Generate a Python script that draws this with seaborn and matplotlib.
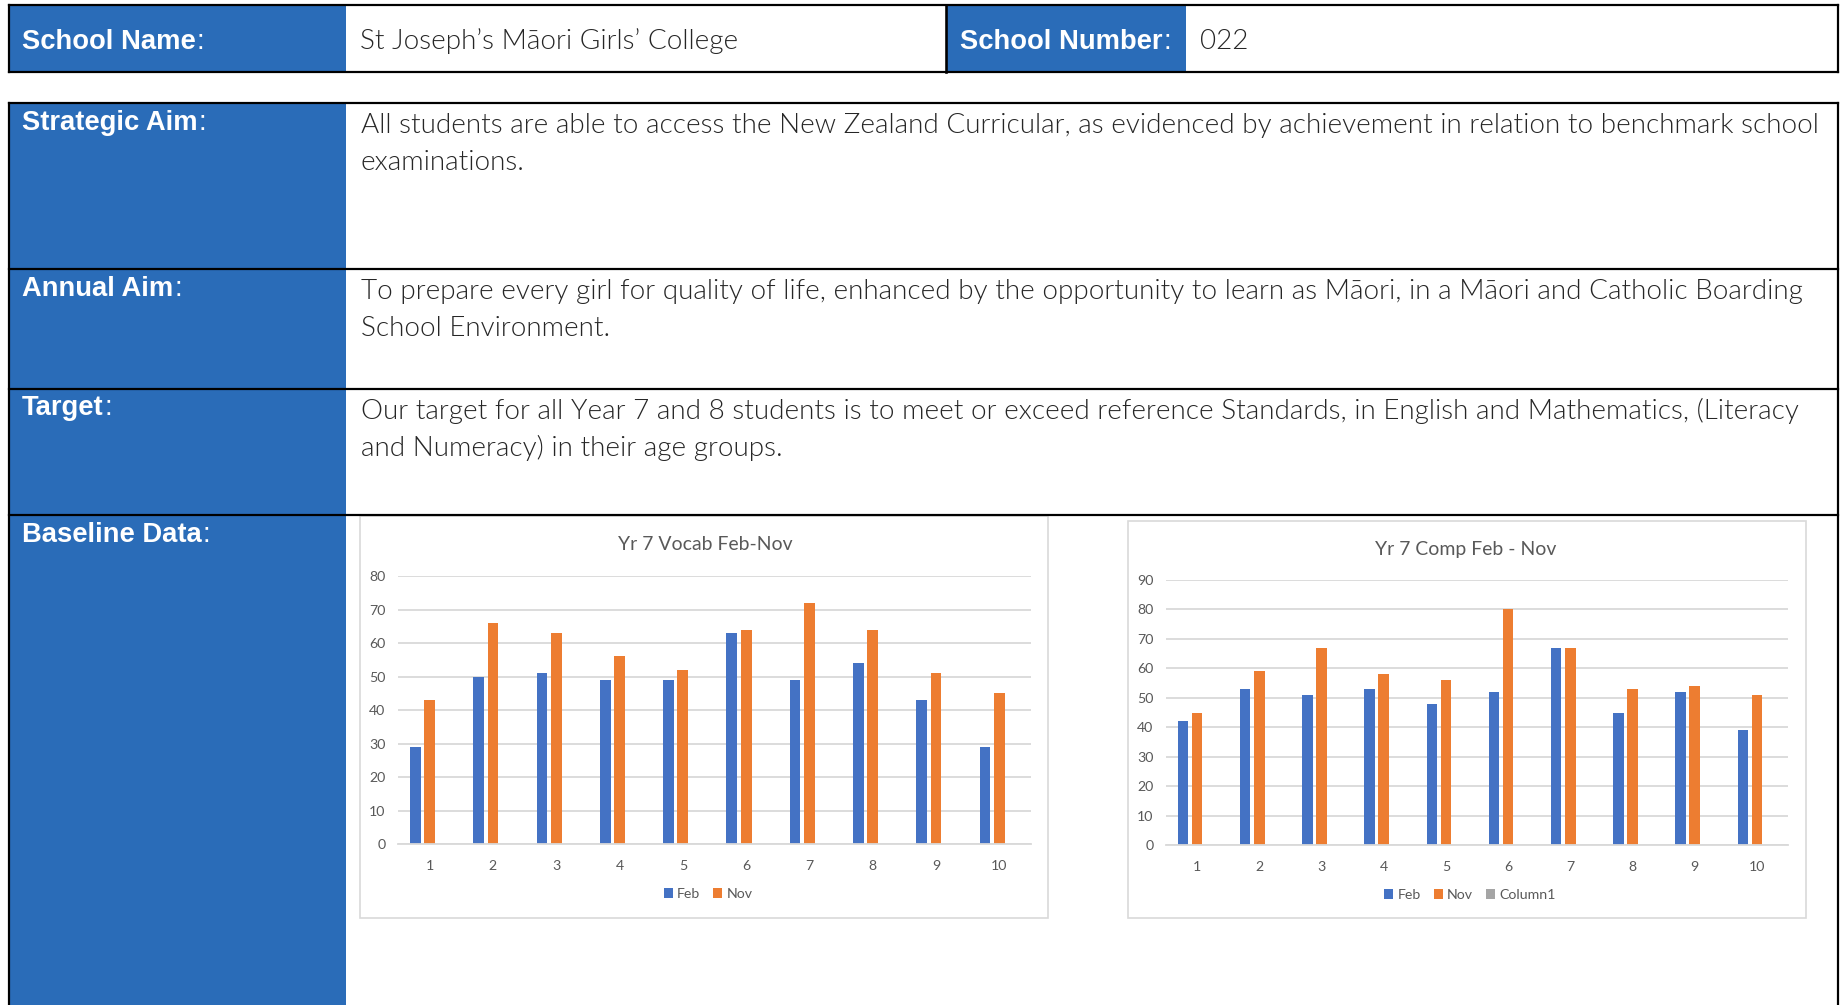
import numpy as np
import pandas as pd
import matplotlib
matplotlib.use("Agg")
import matplotlib.pyplot as plt
import seaborn as sns
from matplotlib.patches import Rectangle, Patch
from matplotlib.lines import Line2D

# ---------------- data ----------------
categories = [1, 2, 3, 4, 5, 6, 7, 8, 9, 10]
vocab_feb = [29, 50, 51, 49, 49, 63, 49, 54, 43, 29]
vocab_nov = [43, 66, 63, 56, 52, 64, 72, 64, 51, 45]
comp_feb = [42, 53, 51, 53, 48, 52, 67, 45, 52, 39]
comp_nov = [45, 59, 67, 58, 56, 80, 67, 53, 54, 51]
series_names = ["Feb", "Nov", "Column1"]
series_colors = ["#4472C4", "#ED7D31", "#A5A5A5"]
vocab_yticks = [0, 10, 20, 30, 40, 50, 60, 70, 80]
comp_yticks = [0, 10, 20, 30, 40, 50, 60, 70, 80, 90]
vocab_title = "Yr 7 Vocab Feb-Nov"
comp_title = "Yr 7 Comp Feb - Nov"

school_name = "St Joseph\u2019s M\u0101ori Girls\u2019 College"
school_number = "022"
strategic_lines = ["All students are able to access the New Zealand Curricular, as evidenced by achievement in relation to benchmark school",
                   "examinations."]
annual_lines = ["To prepare every girl for quality of life, enhanced by the opportunity to learn as M\u0101ori, in a M\u0101ori and Catholic Boarding",
                "School Environment."]
target_lines = ["Our target for all Year 7 and 8 students is to meet or exceed reference Standards, in English and Mathematics, (Literacy",
                "and Numeracy) in their age groups."]


def long_frame(feb, nov):
    rows = []
    for c, f, n in zip(categories, feb, nov):
        rows.append({"cat": str(c), "series": "Feb", "value": f})
        rows.append({"cat": str(c), "series": "Nov", "value": n})
    return pd.DataFrame(rows)


vocab_df = long_frame(vocab_feb, vocab_nov)
comp_df = long_frame(comp_feb, comp_nov)

# ---------------- figure ----------------
W, H = 1841, 1005
sns.set_theme(style="white")
BODY_FONT = ["Lato", "DejaVu Sans"]
plt.rcParams["font.family"] = BODY_FONT
fig = plt.figure(figsize=(W / 100, H / 100), dpi=100)
fig.patch.set_facecolor("white")
renderer = fig.canvas.get_renderer()

BLUE = "#2A6CB8"
BODY_WEIGHT = 300
BODY_COLOR = "#262626"


def fx(x):
    return x / W


def fy(y):
    return 1 - y / H


def rect(x0, y0, x1, y1, **kw):
    r = Rectangle((fx(x0), fy(y1)), (x1 - x0) / W, (y1 - y0) / H,
                  transform=fig.transFigure, **kw)
    fig.add_artist(r)
    return r


def hline(x0, x1, y, lw=2.2, color="black"):
    fig.add_artist(Line2D([fx(x0), fx(x1)], [fy(y), fy(y)], transform=fig.transFigure,
                          color=color, lw=lw * 0.72, zorder=10, solid_capstyle="projecting"))


def vline(x, y0, y1, lw=2.2, color="black"):
    fig.add_artist(Line2D([fx(x), fx(x)], [fy(y0), fy(y1)], transform=fig.transFigure,
                          color=color, lw=lw * 0.72, zorder=10, solid_capstyle="projecting"))


def fit_size(s, target, **kw):
    t = fig.text(0, 0, s, fontsize=20, **kw)
    w = t.get_window_extent(renderer).width
    t.remove()
    return 20 * target / w


# ---------------- header table ----------------
rect(9, 5, 346, 72, facecolor=BLUE, edgecolor="none", zorder=-5)
rect(946, 5, 1186, 72, facecolor=BLUE, edgecolor="none", zorder=-5)
hline(9, 1838, 5)
hline(9, 1838, 72)
vline(9, 5, 72)
vline(1838, 5, 72)
vline(946, 5, 72, lw=2.6)

# ---------------- main table ----------------
rect(9, 103, 346, 1005, facecolor=BLUE, edgecolor="none", zorder=-5)
for yy in [103, 269, 389, 515]:
    hline(9, 1838, yy)
vline(9, 103, 1006)
vline(1838, 103, 1006)

label_size = fit_size("Baseline Data", 179, family="Liberation Sans", fontweight="bold")
body_size = fit_size(strategic_lines[0], 1457, family=BODY_FONT, fontweight=BODY_WEIGHT)


def label(x, y, s):
    t = fig.text(fx(x), fy(y), s, family="Liberation Sans", fontweight="bold",
                 fontsize=label_size, color="white", va="baseline", ha="left")
    bb = t.get_window_extent(renderer)
    fig.text(fx(bb.x1 + 1), fy(y), ":", family="Liberation Sans", fontweight="normal",
             fontsize=label_size, color="white", va="baseline", ha="left")


def body(x, y, s):
    fig.text(fx(x), fy(y), s, family=BODY_FONT, fontweight=BODY_WEIGHT,
             fontsize=body_size, color=BODY_COLOR, va="baseline", ha="left")


label(22, 49, "School Name")
label(960, 49, "School Number")
body(360, 49, school_name)
body(1200, 49, school_number)

label(22, 130.5, "Strategic Aim")
label(22, 296.5, "Annual Aim")
label(22, 414.5, "Target")
label(22, 542, "Baseline Data")

for ln, yy in zip(strategic_lines, [133, 170]):
    body(361, yy, ln)
for ln, yy in zip(annual_lines, [299.5, 336.5]):
    body(361, yy, ln)
for ln, yy in zip(target_lines, [419.5, 456]):
    body(361, yy, ln)

# ---------------- charts ----------------
palette = dict(zip(series_names, series_colors))
title_size = fit_size(vocab_title, 174, family=BODY_FONT)
TICK_COLOR = "#595959"
TICK_SIZE = 10.2


def draw_chart(frame, plot_box, df, yticks, title, title_xy, legend_xy, legend_names):
    fx0, fy0, fx1, fy1 = frame
    rect(fx0, fy0, fx1, fy1, facecolor="white", edgecolor="#d9d9d9", lw=1.2, zorder=-4)
    x0, ytop, x1, ybot = plot_box
    ax = fig.add_axes([fx(x0), fy(ybot), (x1 - x0) / W, (ybot - ytop) / H])
    ax.set_facecolor("none")
    sns.barplot(data=df, x="cat", y="value", hue="series", hue_order=series_names,
                order=[str(c) for c in categories], palette=palette, saturation=1,
                width=0.68, gap=0.25, dodge=True, errorbar=None, legend=False,
                linewidth=0, ax=ax)
    ax.set_xlim(-0.5, len(categories) - 0.5)
    ax.set_ylim(yticks[0], yticks[-1])
    ax.set_yticks(yticks)
    ax.set_xlabel("")
    ax.set_ylabel("")
    ax.yaxis.grid(True, color="#d9d9d9", lw=1.3)
    ax.xaxis.grid(False)
    ax.set_axisbelow(True)
    for side in ["top", "right", "left"]:
        ax.spines[side].set_visible(False)
    ax.spines["bottom"].set_color("#d9d9d9")
    ax.spines["bottom"].set_linewidth(1.3)
    ax.tick_params(axis="y", length=0, pad=9, labelsize=TICK_SIZE, labelcolor=TICK_COLOR)
    ax.tick_params(axis="x", length=0, pad=11, labelsize=TICK_SIZE, labelcolor=TICK_COLOR)
    fig.text(fx(title_xy[0]), fy(title_xy[1]), title, ha="center", va="center",
             fontsize=title_size, color=TICK_COLOR, family=BODY_FONT)
    handles = [Patch(facecolor=palette[n], edgecolor="none") for n in legend_names]
    fig.legend(handles, legend_names, loc="center", bbox_to_anchor=(fx(legend_xy[0]), fy(legend_xy[1])),
               ncol=len(legend_names), frameon=False, handlelength=0.65, handleheight=0.65,
               handletextpad=0.3, columnspacing=0.9, fontsize=TICK_SIZE, labelcolor=TICK_COLOR)
    return ax


draw_chart((360, 516, 1048, 918), (398, 576, 1031, 844.3), vocab_df, vocab_yticks,
           vocab_title, (705, 544), (708, 894), ["Feb", "Nov"])
draw_chart((1128, 521, 1806, 918), (1166, 580, 1788, 845.3), comp_df, comp_yticks,
           comp_title, (1466, 549), (1470, 895), ["Feb", "Nov", "Column1"])

fig.savefig("out.png", dpi=100, facecolor="white")
